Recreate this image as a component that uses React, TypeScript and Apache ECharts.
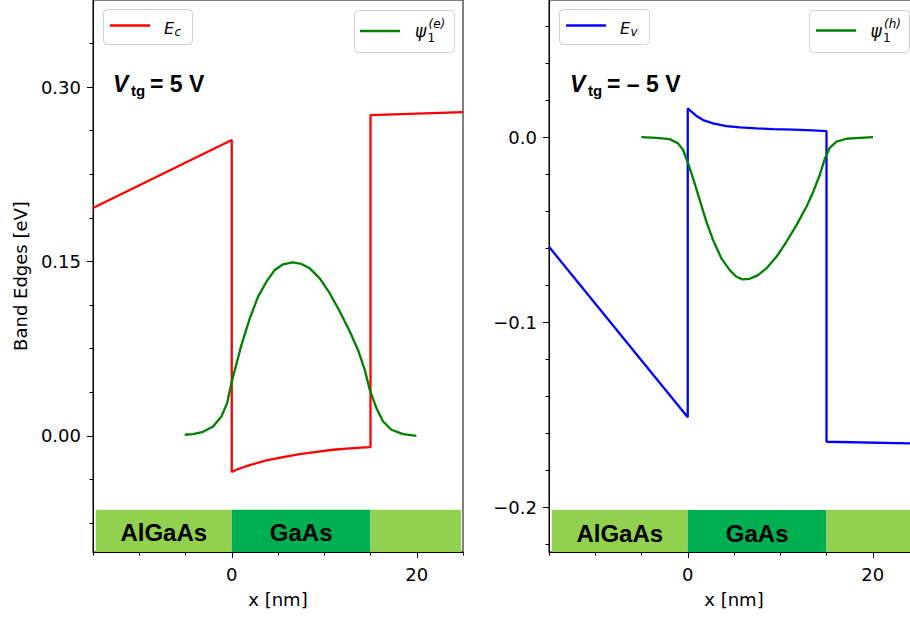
import React, { useEffect, useRef } from "react";
import * as echarts from "echarts";

// ---------- data ----------
const xMajorTicks = [0, 20];
const xMinorTicks = [-15, -10, -5, 5, 10, 15, 25];
const leftYMajor = [0, 0.15, 0.3];
const leftYMinor = [-0.075, -0.0375, 0.0375, 0.075, 0.1125, 0.1875, 0.225, 0.2625, 0.3375];
const rightYMajor = [-0.2, -0.1, 0];
const rightYMinor = [-0.22, -0.18, -0.16, -0.14, -0.12, -0.08, -0.06, -0.04, -0.02, 0.02, 0.04, 0.06];

// Conduction band edge E_c (left, Vtg = 5 V)
const ecX = [-15, 0, 0, 0.68, 1.95, 3.75, 5.55, 7.35, 9.16, 10.95, 12.76, 14.92, 15, 15, 25];
const ecY = [0.196, 0.2545, -0.0312, -0.0286, -0.0252, -0.0212, -0.0183, -0.0157, -0.0138, -0.012, -0.0109, -0.0097, -0.0097, 0.2759, 0.2785];

// Electron wavefunction psi_1^(e)
const psiEX = [-5.08, -4.18, -3.1, -2.02, -1.12, -0.5, -0.04, 0.43, 1.05, 1.95, 2.85, 3.75, 4.65, 5.55, 6.56, 7.53, 8.43, 9.51, 10.59, 11.68, 12.76, 13.65, 14.38, 14.92, 15.64, 16.36, 17.26, 18.52, 19.96];
const psiEY = [0.0009, 0.0014, 0.0034, 0.008, 0.0166, 0.0281, 0.0453, 0.0596, 0.0782, 0.1011, 0.1198, 0.1326, 0.1427, 0.1476, 0.1493, 0.1479, 0.1441, 0.1355, 0.1227, 0.1069, 0.0897, 0.0739, 0.0567, 0.0395, 0.0238, 0.0123, 0.0052, 0.0014, 0.0];

// Valence band edge E_v (right, Vtg = -5 V)
const evX = [-15, 0, 0, 0.4, 0.94, 1.66, 2.74, 4.18, 5.62, 7.42, 9.23, 11.39, 13.55, 14.92, 15, 15, 25];
const evY = [-0.0593, -0.1515, 0.0155, 0.0137, 0.0114, 0.0092, 0.0074, 0.0059, 0.0052, 0.0047, 0.0043, 0.004, 0.0036, 0.0032, 0.0032, -0.1647, -0.1657];

// Hole wavefunction psi_1^(h)
const psiHX = [-5.01, -3.39, -1.95, -1.05, -0.5, 0.04, 0.58, 1.3, 2.02, 2.74, 3.64, 4.54, 5.26, 5.91, 6.7, 7.6, 8.5, 9.59, 10.67, 11.75, 12.83, 13.55, 14.27, 14.81, 15.35, 16.08, 17.16, 18.59, 20.03];
const psiHY = [0, -0.0004, -0.0011, -0.0034, -0.007, -0.0142, -0.0223, -0.0341, -0.0458, -0.0557, -0.0656, -0.0719, -0.0755, -0.0769, -0.0766, -0.0746, -0.071, -0.0647, -0.0566, -0.0476, -0.0377, -0.0298, -0.0205, -0.0118, -0.0058, -0.0025, -0.0009, -0.0004, 0];

// Material layers
const layerNames = ["AlGaAs", "GaAs", ""];
const layerStart = [-14.7, 0, 15];
const layerEnd = [0, 15, 24.8];
const layerColors = ["#92d050", "#00b050", "#92d050"];
const leftRange = [-0.1, 0.375];
const rightRange = [-0.2243, 0.0741];
const xRange = [-15, 25];
const leftBarTop = -0.0636;
const rightBarTop = -0.2016;

const zip = (xs: number[], ys: number[]) => xs.map((x, i) => [x, ys[i]]);

const DEJAVU = '"DejaVu Sans", sans-serif';
const ARIAL = '"Liberation Sans", Arial, sans-serif';
const LW = 2.3;

function makeAxes(dir: "x" | "y", gridIndex: number, range: number[], major: number[], minor: number[], fmt: (v: number) => string, name?: string) {
  const main: any = {
    type: "value",
    gridIndex,
    min: range[0],
    max: range[1],
    position: dir === "x" ? "bottom" : "left",
    splitLine: { show: false },
    axisLine: { show: true, onZero: false, lineStyle: { color: "#000", width: 1 } },
    axisTick: { show: true, customValues: major, length: 6, lineStyle: { color: "#000", width: 1 } },
    axisLabel: {
      show: true,
      customValues: major,
      formatter: fmt,
      fontSize: 18,
      fontFamily: DEJAVU,
      color: "#000",
      margin: dir === "x" ? 13 : 12,
    },
  };
  if (name) {
    main.name = name;
    main.nameLocation = "middle";
    main.nameGap = dir === "x" ? 38 : 64;
    main.nameTextStyle = { fontSize: 18, fontFamily: DEJAVU, color: "#000" };
  }
  const minorAxis: any = {
    type: "value",
    gridIndex,
    min: range[0],
    max: range[1],
    position: dir === "x" ? "bottom" : "left",
    splitLine: { show: false },
    axisLine: { show: false, onZero: false },
    axisTick: { show: true, customValues: minor, length: 3.5, lineStyle: { color: "#000", width: 1 } },
    axisLabel: { show: false },
  };
  return [main, minorAxis];
}

function layerAreas(yMin: number, yTop: number) {
  return layerNames.map((n, i) => [
    { name: n, xAxis: layerStart[i], yAxis: yMin, itemStyle: { color: layerColors[i] } },
    { xAxis: layerEnd[i], yAxis: yTop },
  ]);
}

function txt(x: number, y: number, text: string, size: number, opts: any = {}) {
  return {
    type: "text",
    x,
    y,
    z: 100,
    style: {
      text,
      fontSize: size,
      fontFamily: opts.family || DEJAVU,
      fontStyle: opts.italic ? "italic" : "normal",
      fontWeight: opts.bold ? "bold" : "normal",
      fill: "#000",
      align: "left",
      verticalAlign: "middle",
    },
  };
}

function legendBox(x: number, y: number, w: number, h: number) {
  return {
    type: "rect",
    z: 90,
    shape: { x, y, width: w, height: h, r: 4 },
    style: { fill: "#fff", stroke: "#d0d0d0", lineWidth: 1 },
  };
}

function legendLine(x1: number, x2: number, y: number, color: string) {
  return {
    type: "line",
    z: 95,
    shape: { x1, y1: y, x2, y2: y },
    style: { stroke: color, lineWidth: LW },
  };
}

export default function App() {
  const ref = useRef<HTMLDivElement>(null);
  useEffect(() => {
    if (!ref.current) return;
    const chart = echarts.init(ref.current, null, { renderer: "svg" });
    const fmtLeft = (v: number) => v.toFixed(2);
    const fmtRight = (v: number) => (v < -1e-9 ? "\u2212" : "") + Math.abs(v).toFixed(1);
    const fmtX = (v: number) => String(Math.round(v));

    const [x0, x0m] = makeAxes("x", 0, xRange, xMajorTicks, xMinorTicks, fmtX, "x [nm]");
    const [x1, x1m] = makeAxes("x", 1, xRange, xMajorTicks, xMinorTicks, fmtX, "x [nm]");
    const [y0, y0m] = makeAxes("y", 0, leftRange, leftYMajor, leftYMinor, fmtLeft, "Band Edges [eV]");
    const [y1, y1m] = makeAxes("y", 1, rightRange, rightYMajor, rightYMinor, fmtRight);

    const markLabel = {
      show: true,
      position: "inside",
      formatter: "{b}",
      fontSize: 24,
      fontWeight: "bold",
      fontFamily: ARIAL,
      color: "#000",
      offset: [0, 2],
    };

    const lineBase = { type: "line", showSymbol: false, symbol: "none", smooth: false };

    const option: any = {
      animation: false,
      backgroundColor: "#fff",
      grid: [
        { left: 93, top: 0, width: 370, height: 552, show: true, borderColor: "#000", borderWidth: 1, backgroundColor: "transparent", containLabel: false, outerBoundsMode: "none" },
        { left: 549, top: 0, width: 370, height: 552, show: true, borderColor: "#000", borderWidth: 1, backgroundColor: "transparent", containLabel: false, outerBoundsMode: "none" },
      ],
      xAxis: [x0, x0m, x1, x1m],
      yAxis: [y0, y0m, y1, y1m],
      series: [
        {
          ...lineBase,
          name: "E_c",
          xAxisIndex: 0,
          yAxisIndex: 0,
          data: zip(ecX, ecY),
          lineStyle: { color: "#ff0000", width: LW },
          itemStyle: { color: "#ff0000" },
          z: 5,
          markArea: { silent: true, label: markLabel, data: layerAreas(leftRange[0], leftBarTop) },
        },
        {
          ...lineBase,
          name: "psi_e",
          xAxisIndex: 0,
          yAxisIndex: 0,
          data: zip(psiEX, psiEY),
          lineStyle: { color: "#008000", width: LW },
          itemStyle: { color: "#008000" },
          z: 6,
        },
        {
          ...lineBase,
          name: "E_v",
          xAxisIndex: 2,
          yAxisIndex: 2,
          data: zip(evX, evY),
          lineStyle: { color: "#0000ff", width: LW },
          itemStyle: { color: "#0000ff" },
          z: 5,
          markArea: { silent: true, label: markLabel, data: layerAreas(rightRange[0], rightBarTop) },
        },
        {
          ...lineBase,
          name: "psi_h",
          xAxisIndex: 2,
          yAxisIndex: 2,
          data: zip(psiHX, psiHY),
          lineStyle: { color: "#008000", width: LW },
          itemStyle: { color: "#008000" },
          z: 6,
        },
      ],
      graphic: [
        // left legends
        legendBox(103.5, 9.5, 89, 35),
        legendLine(110, 150, 25.5, "#ff0000"),
        txt(164, 28, "E", 16, { italic: true }),
        txt(174.5, 31.5, "c", 12, { italic: true }),
        legendBox(354.5, 10.5, 100, 42),
        legendLine(360, 400, 31, "#008000"),
        txt(415, 31, "\u03c8", 17, { italic: true }),
        txt(427.5, 38, "1", 12),
        txt(428.5, 24, "(e)", 12, { italic: true }),
        // left annotation
        txt(113, 84, "V", 23, { italic: true, bold: true, family: ARIAL }),
        txt(131, 90.5, "tg", 15, { bold: true, family: ARIAL }),
        txt(150, 84, "= 5 V", 23, { bold: true, family: ARIAL }),
        // right legends
        legendBox(559.5, 9.5, 90, 35),
        legendLine(566, 606, 25.5, "#0000ff"),
        txt(620, 28, "E", 16, { italic: true }),
        txt(630.5, 31.5, "v", 12, { italic: true }),
        legendBox(809.5, 10.5, 100, 42),
        legendLine(816, 856, 30.5, "#008000"),
        txt(870.5, 31, "\u03c8", 17, { italic: true }),
        txt(883, 38, "1", 12),
        txt(884, 24, "(h)", 12, { italic: true }),
        // right annotation
        txt(570, 84, "V", 23, { italic: true, bold: true, family: ARIAL }),
        txt(588, 90.5, "tg", 15, { bold: true, family: ARIAL }),
        txt(607, 84, "= \u2013 5 V", 23, { bold: true, family: ARIAL }),
      ],
    };
    chart.setOption(option);
    return () => chart.dispose();
  }, []);
  return <div ref={ref} style={{ position: "absolute", left: 0, top: 0, width: 910, height: 619 }} />;
}
